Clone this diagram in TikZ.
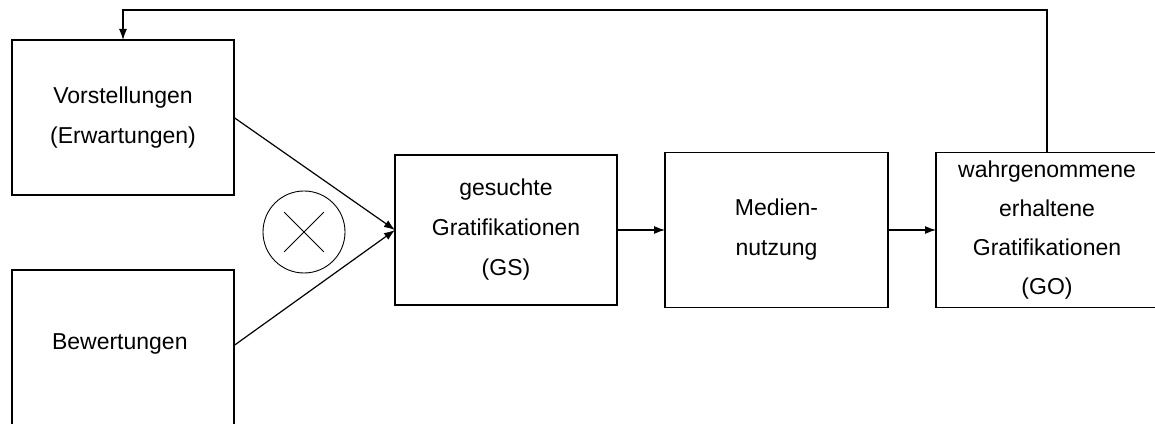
\documentclass[tikz,border=0pt]{standalone}
\usepackage{fontspec}
\setmainfont{Liberation Sans}
\usepackage{tikz}
\usetikzlibrary{positioning,arrows.meta,shapes}

\begin{document}
\begin{tikzpicture}[
			x=1pt, y=1pt,
			node distance=48pt,
			block/.style={rectangle, draw, line width=1.2pt, minimum width=222pt, minimum height=155pt, align=center, outer sep=0pt, inner sep=0pt, font=\fontsize{23}{40}\selectfont},
			mult/.style={circle, draw, line width=0.9pt, minimum size=82pt, inner sep=0pt},
			arrow/.style={-{Latex[length=11pt, width=8pt]}, line width=1.2pt}
		]
		\useasboundingbox (0,0) rectangle (1155,423);

		\node[block] (vorst) at (123,305.5) {
			Vorstellungen\\
			(Erwartungen)
		};

		\node[block, below=75pt of vorst, minimum height=157pt] (bewert) {
			\raisebox{13pt}{Bewertungen}
		};

		\node[mult] (mal) at (304,191) {};
		\draw[line width=0.9pt] ([shift={(135:28pt)}]mal.center) -- ([shift={(-45:28pt)}]mal.center);
		\draw[line width=0.9pt] ([shift={(45:28pt)}]mal.center) -- ([shift={(-135:28pt)}]mal.center);

		\node[block, minimum height=150pt] (gs) at (506,193) {
			gesuchte\\
			Gratifikationen\\
			(GS)
		};

		\node[block, right=of gs, minimum width=223pt] (nutz) {
			Medien-\\
			nutzung
		};

		\node[block, right=of nutz, font=\fontsize{23}{39}\selectfont] (go) {
			wahrgenommene\\
			erhaltene\\
			Gratifikationen\\
			(GO)
		};

		\coordinate (oben) at (0,413);

		\draw[arrow] (vorst.east) -- (gs.west);
		\draw[arrow] ([yshift=3pt]bewert.east) -- (gs.west);
		\draw[arrow] (gs) -- (nutz);
		\draw[arrow] (nutz) -- (go);
		\draw[arrow] (go.north) -- (go.north |- oben) -| (vorst.north);
	\end{tikzpicture}
\end{document}
